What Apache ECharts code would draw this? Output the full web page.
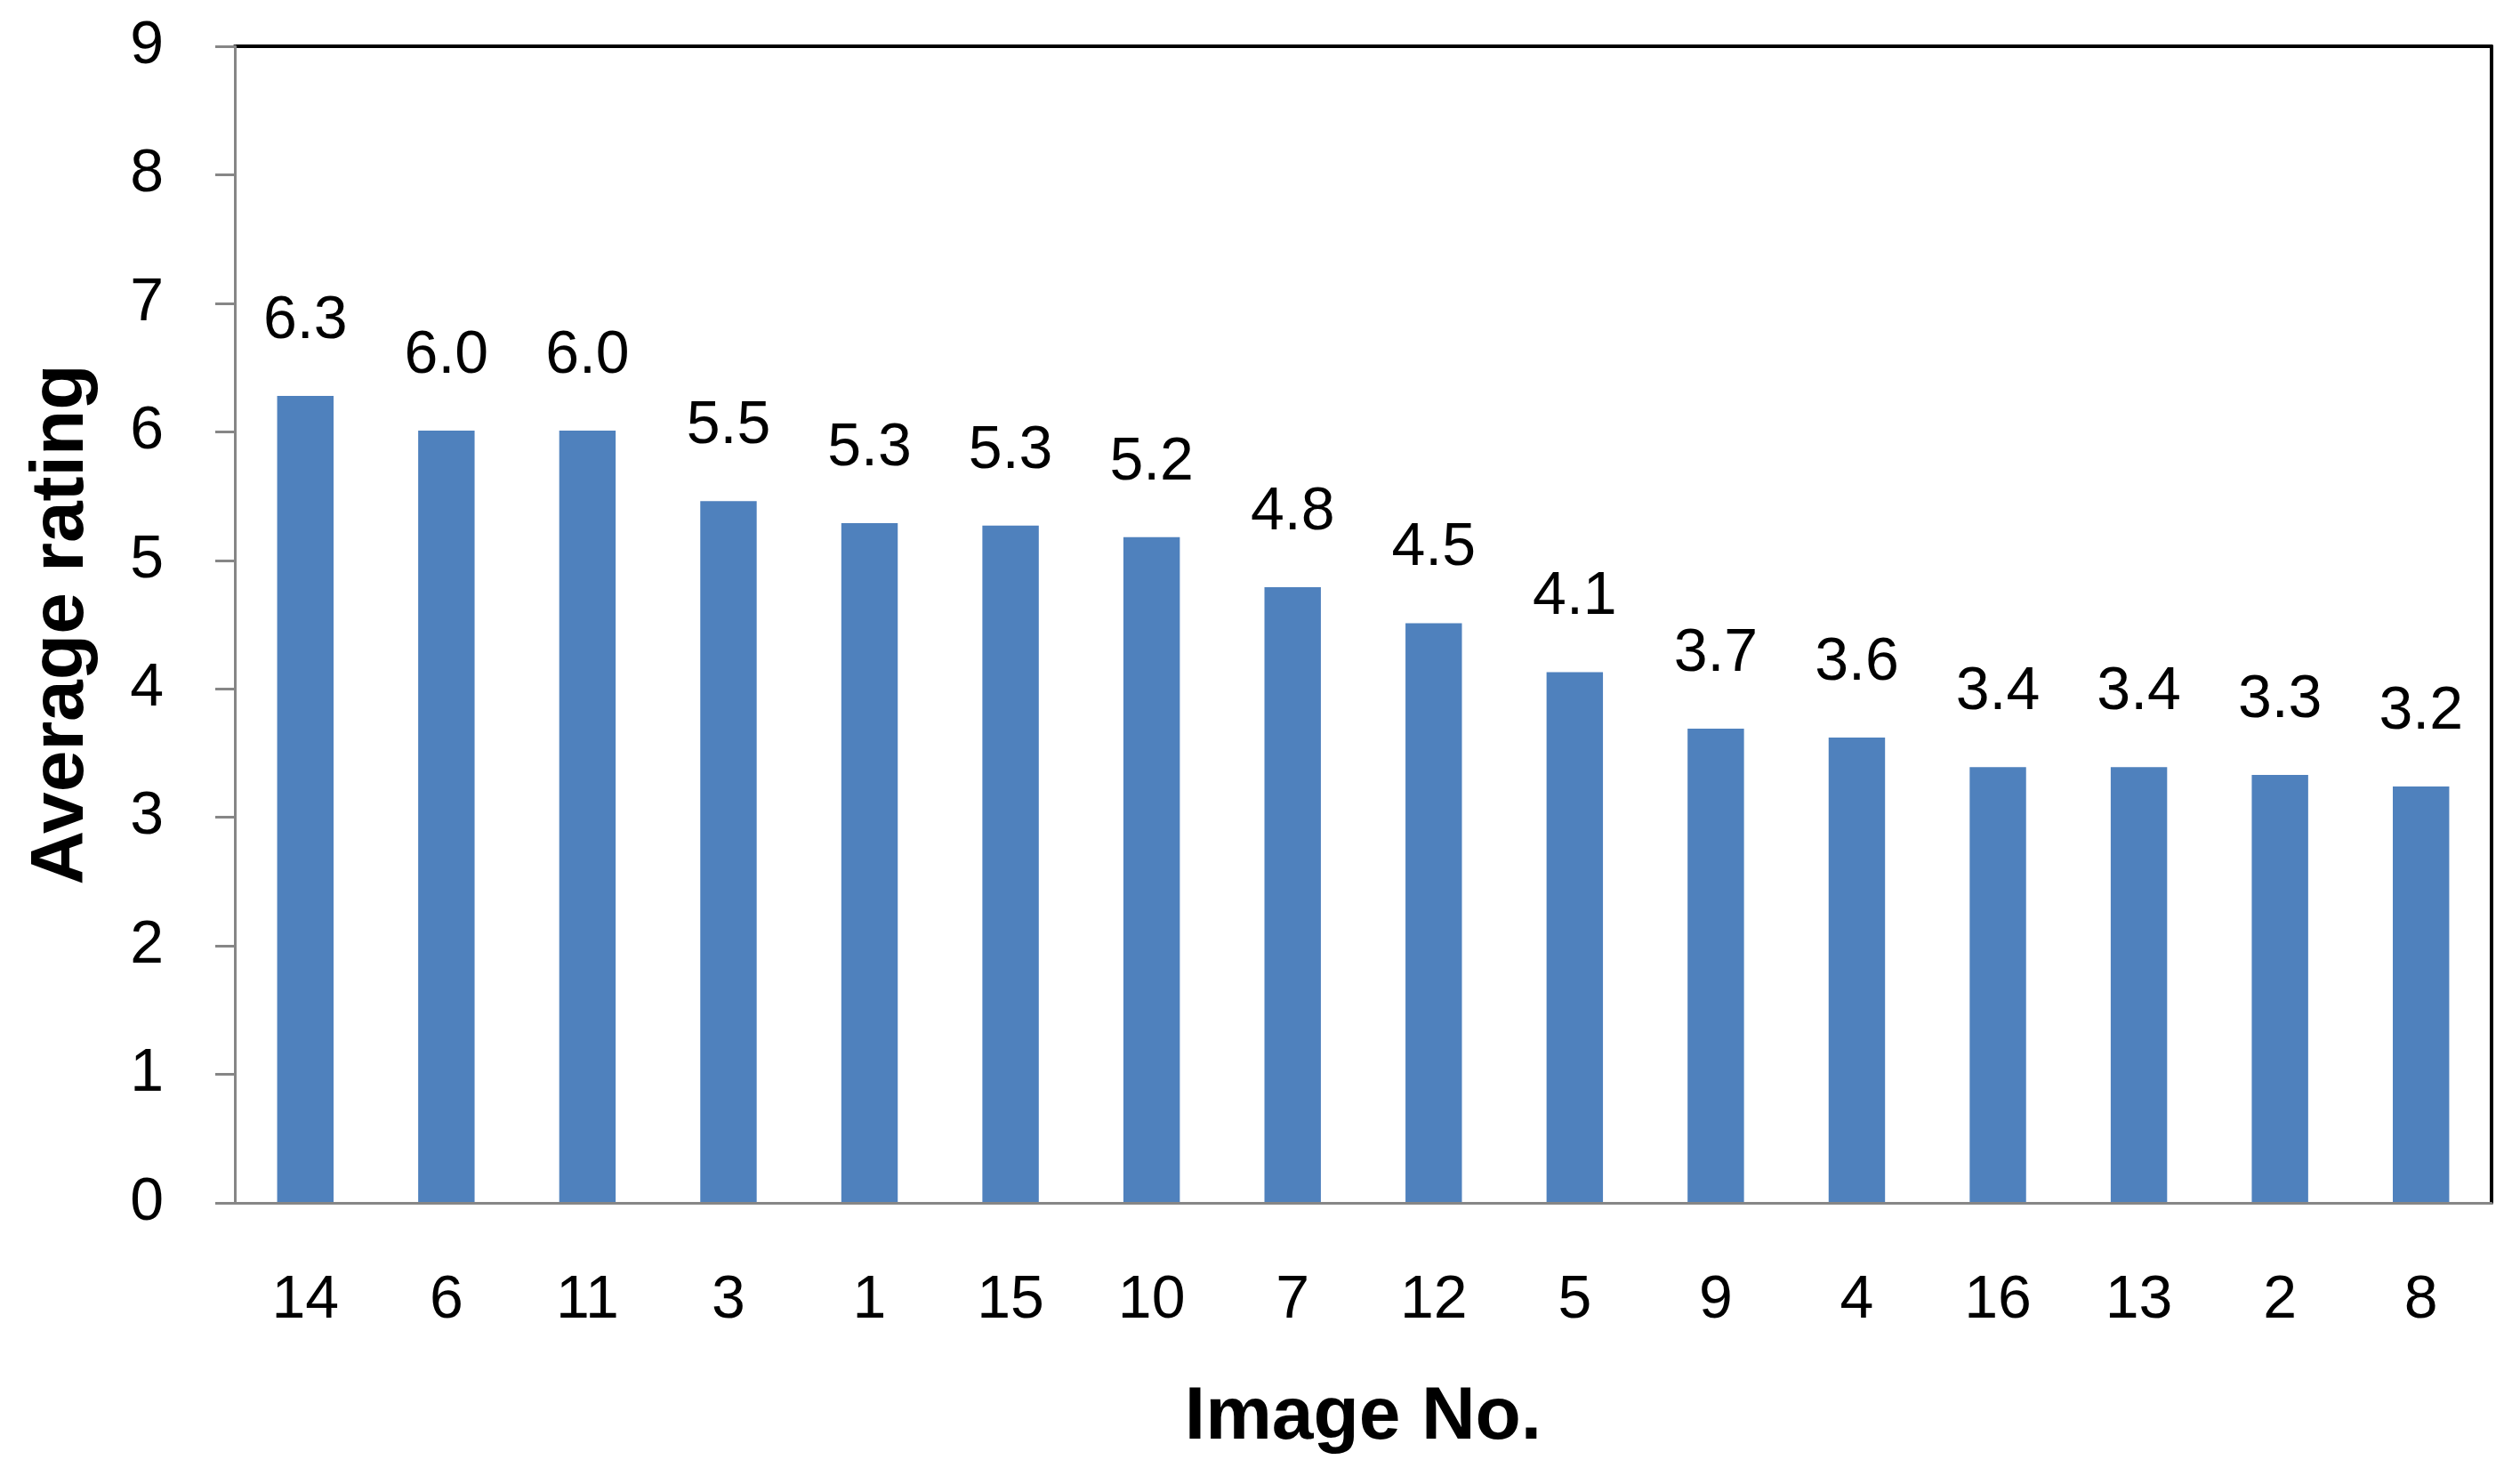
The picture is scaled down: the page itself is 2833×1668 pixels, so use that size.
<!DOCTYPE html>
<html>
<head>
<meta charset="utf-8">
<script src="https://cdn.jsdelivr.net/npm/echarts@6/dist/echarts.min.js"></script>
<style>
  html, body { margin: 0; padding: 0; background: #fff; }
  #main { width: 2833px; height: 1668px; }
</style>
</head>
<body>
<div id="main"></div>
<script>
// image numbers, sorted by rating
var imageNos = ['14', '6', '11', '3', '1', '15', '10', '7', '12', '5', '9', '4', '16', '13', '2', '8'];
// average rating per image
var ratings = [6.28, 6.01, 6.01, 5.46, 5.29, 5.27, 5.18, 4.79, 4.51, 4.13, 3.69, 3.62, 3.39, 3.39, 3.33, 3.24];
var yTicks = [0, 1, 2, 3, 4, 5, 6, 7, 8, 9];

var font = '"Liberation Sans", Arial, sans-serif';
var myChart = echarts.init(document.getElementById('main'));

myChart.setOption({
  animation: false,
  color: ['#4F81BD'],
  grid: { left: 264, right: 32, top: 52, bottom: 316 },
  xAxis: [{
    type: 'category',
    data: imageNos,
    name: 'Image No.',
    nameLocation: 'middle',
    nameGap: 200,
    nameTextStyle: { fontFamily: font, fontSize: 84, fontWeight: 'bold', color: '#000' },
    axisLine: { lineStyle: { color: '#868686', width: 3 } },
    axisTick: { length: 28, lineStyle: { color: '#868686', width: 3 } },
    axisLabel: { margin: 76, fontFamily: font, fontSize: 68, color: '#000' },
    z: 3
  }, {
    // top border of the plot
    type: 'category',
    data: imageNos,
    position: 'top',
    axisLine: { onZero: false, lineStyle: { color: '#000', width: 4 } },
    axisTick: { show: false },
    axisLabel: { show: false }
  }],
  yAxis: [{
    type: 'value',
    min: yTicks[0],
    max: yTicks[yTicks.length - 1],
    interval: 1,
    name: 'Average rating',
    nameLocation: 'middle',
    nameGap: 152,
    nameTextStyle: { fontFamily: font, fontSize: 84, fontWeight: 'bold', color: '#000' },
    splitLine: { show: false },
    axisLine: { show: true, lineStyle: { color: '#868686', width: 3 } },
    axisTick: { show: true, length: 22, lineStyle: { color: '#868686', width: 3 } },
    axisLabel: { margin: 80, fontFamily: font, fontSize: 68, color: '#000' },
    z: 3
  }, {
    // right border of the plot
    type: 'value',
    position: 'right',
    min: 0,
    max: 9,
    interval: 1,
    splitLine: { show: false },
    axisLine: { show: true, onZero: false, lineStyle: { color: '#000', width: 4 } },
    axisTick: { show: false },
    axisLabel: { show: false }
  }],
  series: [{
    name: 'Average rating',
    type: 'bar',
    barWidth: '40%',
    data: ratings,
    label: {
      show: true,
      position: 'top',
      distance: 50,
      fontFamily: font,
      fontSize: 68,
      color: '#000',
      formatter: function (p) { return p.value.toFixed(1); }
    }
  }]
});
</script>
</body>
</html>
